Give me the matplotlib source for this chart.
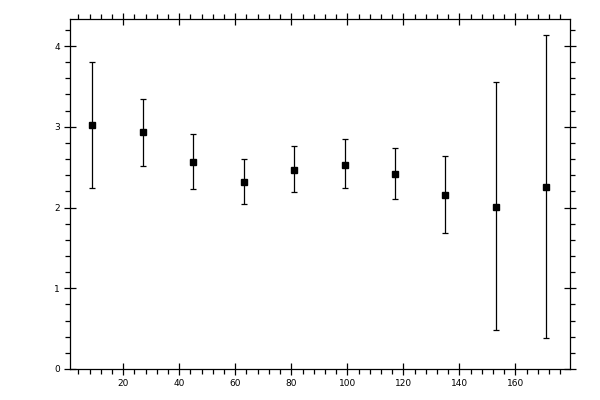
import matplotlib
matplotlib.use('Agg')
import matplotlib.pyplot as plt
from matplotlib.ticker import MultipleLocator

# bin centres and measured values with lower / upper error bounds
x_vals = [9, 27, 45, 63, 81, 99, 117, 135, 153, 171]
y_vals = [3.02, 2.93, 2.57, 2.32, 2.47, 2.53, 2.42, 2.15, 2.01, 2.26]
y_low = [2.24, 2.51, 2.23, 2.04, 2.19, 2.24, 2.11, 1.68, 0.48, 0.39]
y_high = [3.80, 3.35, 2.91, 2.60, 2.76, 2.85, 2.74, 2.64, 3.55, 4.14]

err_lo = [v - lo for v, lo in zip(y_vals, y_low)]
err_hi = [hi - v for v, hi in zip(y_vals, y_high)]

fig = plt.figure(figsize=(6, 4), dpi=100)
ax = fig.add_axes([0.116, 0.0775, 0.834, 0.874])

ax.errorbar(x_vals, y_vals, yerr=[err_lo, err_hi], fmt='s', color='black',
            markersize=5, elinewidth=0.9, capsize=2.2, capthick=0.9)

ax.set_xlim(0.85, 179.5)
ax.set_ylim(0, 4.33)

ax.xaxis.set_major_locator(MultipleLocator(20))
ax.xaxis.set_minor_locator(MultipleLocator(4))
ax.yaxis.set_major_locator(MultipleLocator(1))
ax.yaxis.set_minor_locator(MultipleLocator(0.2))

ax.tick_params(which='major', direction='inout', length=8, width=0.9,
               top=True, right=True, labelsize=6.5, pad=3)
ax.tick_params(which='minor', direction='out', length=3.5, width=0.9,
               top=True, right=True)
ax.set_xticks([20, 40, 60, 80, 100, 120, 140, 160])

for s in ax.spines.values():
    s.set_linewidth(0.9)

fig.savefig('out.png', dpi=100)
